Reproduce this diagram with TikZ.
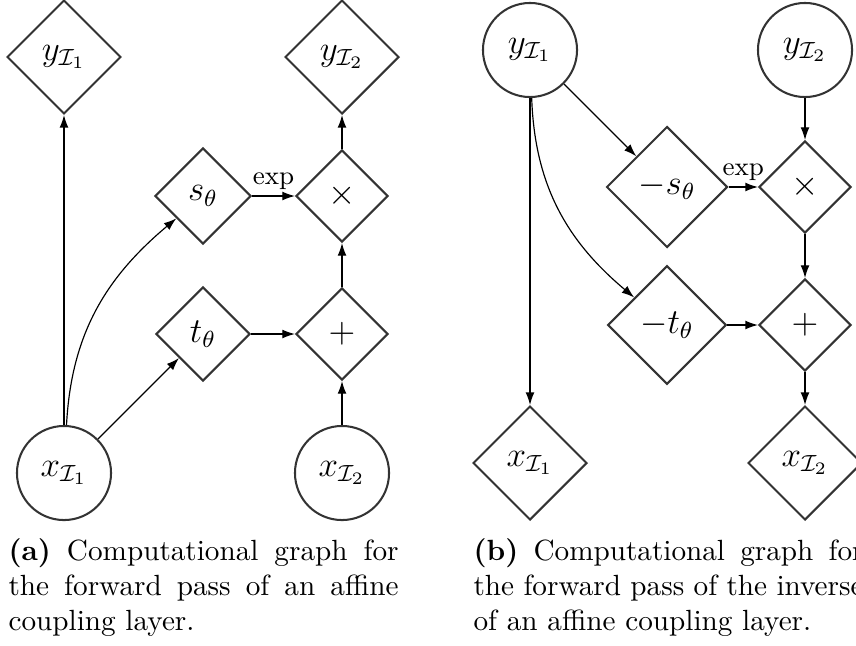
\documentclass[tikz,border=0pt]{standalone}
\usetikzlibrary{shapes.geometric,arrows.meta}
\begin{document}
\begin{tikzpicture}[x=0.3423pt,y=0.3423pt,
  every node/.style={font=\large},
  dia/.style={diamond,draw=black!80,line width=0.7pt,inner sep=0pt,minimum size=#1},
  circ/.style={circle,draw=black!80,line width=0.7pt,inner sep=0pt,minimum size=32.2pt},
  arr/.style={-{Latex[length=4.3pt,width=3pt]},line width=0.4pt},
  lbl/.style={font=\small,inner sep=2pt},
  captext/.style={font=\normalsize,text width=133.5pt,align=justify,inner sep=0pt,anchor=base west}]
\useasboundingbox (0,0) rectangle (856,-645);

% (a) affine coupling layer, forward pass
\node[dia=39pt]   (ay1)  at (64,-57)   {$y_{\mathcal{I}_1}$};
\node[dia=39pt]   (ay2)  at (342,-57)  {$y_{\mathcal{I}_2}$};
\node[dia=32.9pt] (as)   at (203,-196) {$s_\theta$};
\node[dia=31.5pt] (amul) at (342,-196) {$\times$};
\node[dia=32.2pt] (at)   at (203,-334) {$t_\theta$};
\node[dia=31.5pt] (aadd) at (342,-334) {$+$};
\node[circ]       (ax1)  at (64,-473)  {$x_{\mathcal{I}_1}$};
\node[circ]       (ax2)  at (342,-473) {$x_{\mathcal{I}_2}$};

\draw[arr] (ax1) -- (ay1);
\draw[arr] (ax1) to[out=87,in=220] (as);
\draw[arr] (ax1) -- (at);
\draw[arr] (as) -- node[lbl,above] {exp} (amul);
\draw[arr] (at) -- (aadd);
\draw[arr] (aadd) -- (amul);
\draw[arr] (amul) -- (ay2);
\draw[arr] (ax2) -- (aadd);

% (b) inverse of the affine coupling layer
\node[circ]       (by1)  at (530,-50)  {$y_{\mathcal{I}_1}$};
\node[circ]       (by2)  at (805,-50)  {$y_{\mathcal{I}_2}$};
\node[dia=41.4pt] (bs)   at (667,-187) {$-s_\theta$};
\node[dia=31.5pt] (bmul) at (805,-187) {$\times$};
\node[dia=40.6pt] (bt)   at (667,-325) {$-t_\theta$};
\node[dia=31.5pt] (badd) at (805,-325) {$+$};
\node[dia=39pt]   (bx1)  at (530,-463) {$x_{\mathcal{I}_1}$};
\node[dia=39pt]   (bx2)  at (805,-463) {$x_{\mathcal{I}_2}$};

\draw[arr] (by1) -- (bx1);
\draw[arr] (by1) -- (bs);
\draw[arr] (by1) to[out=-88,in=140] (bt);
\draw[arr] (by2) -- (bmul);
\draw[arr] (bs) -- node[lbl,above] {exp} (bmul);
\draw[arr] (bmul) -- (badd);
\draw[arr] (bt) -- (badd);
\draw[arr] (badd) -- (bx2);

% captions
\node[captext] (capa) at (8,-560) {\textbf{(a)} Computational graph for the forward pass of an affine coupling layer.};
\node[captext] (capb) at (473,-560) {\textbf{(b)} Computational graph for the forward pass of the inverse of an affine coupling layer.};
\end{tikzpicture}
\end{document}
